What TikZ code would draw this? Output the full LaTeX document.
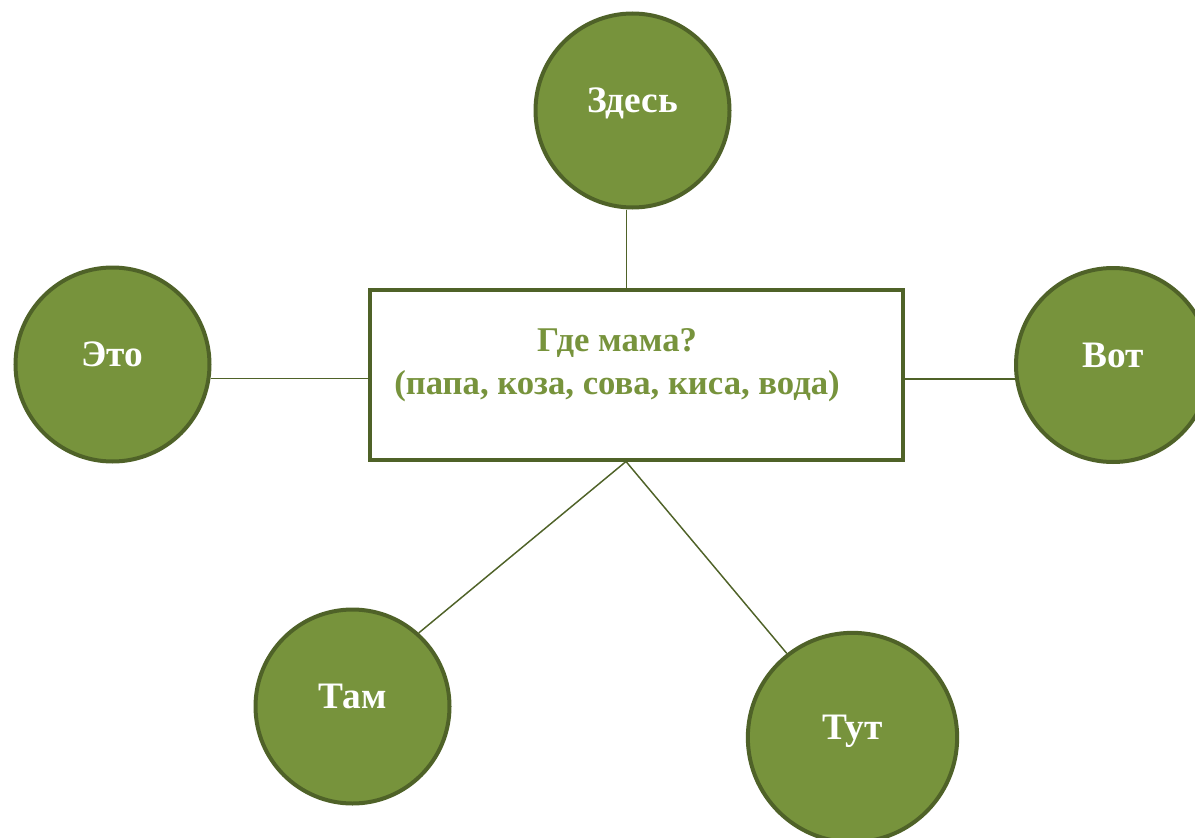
\documentclass[tikz,border=0pt]{standalone}
\usepackage{fontspec}
\setmainfont{Liberation Serif}
\definecolor{leaf}{HTML}{77933C}
\definecolor{bark}{HTML}{4F6228}

\begin{document}
\begin{tikzpicture}[x=0.75pt, y=-0.75pt,
	word/.style={circle, draw=bark, line width=3pt, fill=leaf, minimum size=145.5pt, inner sep=0pt,
		text=white, font=\fontsize{28}{34}\selectfont\bfseries, text height=12pt, text depth=9pt},
	askbox/.style={rectangle, draw=bark, line width=3pt, fill=white, minimum width=399.75pt, minimum height=127.5pt},
	asktext/.style={text=leaf, font=\fontsize{26}{32.5}\selectfont\bfseries, align=center},
	link/.style={draw=bark, line width=1.1pt}]

	\useasboundingbox (0,0) rectangle (1195,838);

	% Nodes {ask, zdes, eto, vot, tam, tut}
	\node [askbox] 				(ask)   at (636,374.5) {};
	\node [asktext] 			(q)     at (617,365)   {Где мама?\\(папа, коза, сова, киса, вода)};
	\node [word] 				(zdes)  at (632.5,110.5) {Здесь};
	\node [word] 				(eto)   at (112.5,364.5) {Это};
	\node [word] 				(vot)   at (1113,365)   {Вот};
	\node [word] 				(tam)   at (352.5,706.5) {Там};
	\node [word, minimum size=157pt] (tut) at (852.5,737.5) {Тут};

	% Ends on the box
	\coordinate (top) at ([xshift=-7pt]ask.north);
	\coordinate (hub) at ([xshift=-7.5pt]ask.south);

	% Paths from the box to the words
	\path [link] 	(top) edge 				(top |- zdes.south);
	\path [link] 	(eto.-8.5) edge 		(eto.-8.5 -| ask.west);
	\path [link] 	(vot.188.2) edge 		(vot.188.2 -| ask.east);
	\path [link] 	(hub) edge 				(tam.48);
	\path [link] 	(hub) edge 				(tut.128.6);

\end{tikzpicture}
\end{document}
